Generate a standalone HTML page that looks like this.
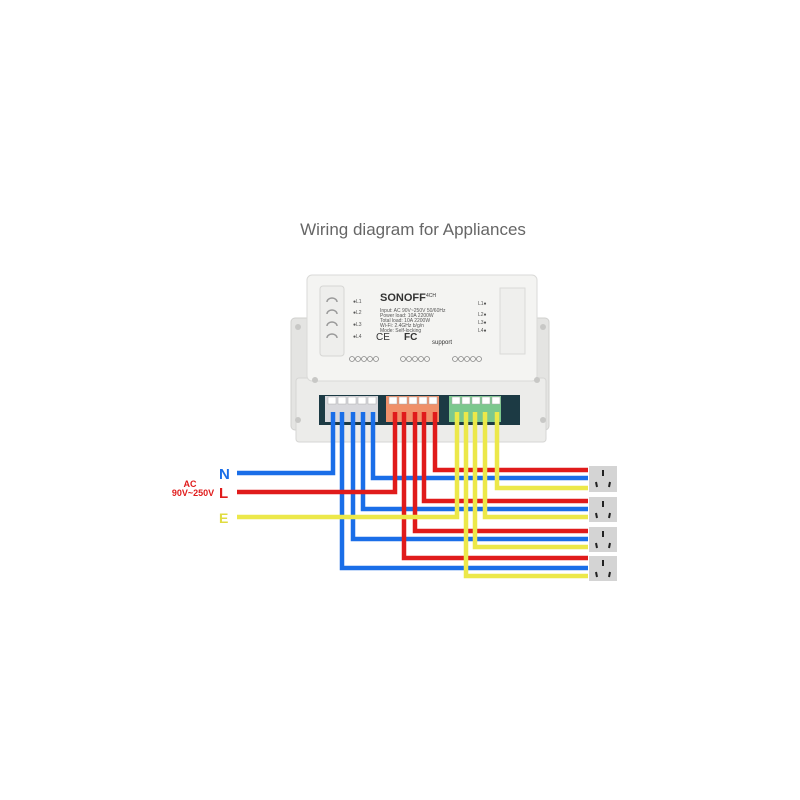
<!DOCTYPE html>
<html><head><meta charset="utf-8"><style>
html,body{margin:0;padding:0;background:#fff;}
svg{display:block;}
</style></head><body>
<svg width="800" height="800" viewBox="0 0 800 800" xmlns="http://www.w3.org/2000/svg" font-family="Liberation Sans, sans-serif">
<rect width="800" height="800" fill="#fff"/>
<text x="413" y="235" text-anchor="middle" font-size="17" fill="#666">Wiring diagram for Appliances</text>
<!-- device -->
<rect x="291" y="318" width="258" height="112" rx="4" fill="#e4e4e2" stroke="#d0d0ce"/>
<rect x="296" y="378" width="250" height="64" rx="3" fill="#ececea" stroke="#d6d6d4"/>
<rect x="307" y="275" width="230" height="106" rx="5" fill="#f4f4f2" stroke="#dadad8"/>
<rect x="320" y="286" width="24" height="70" rx="3" fill="#eeeeec" stroke="#d6d6d4"/>
<g fill="none" stroke="#999" stroke-width="1.5">
<path d="M327 302 a5 4 0 0 1 10 0"/><path d="M327 314 a5 4 0 0 1 10 0"/><path d="M327 326 a5 4 0 0 1 10 0"/><path d="M327 338 a5 4 0 0 1 10 0"/>
</g>
<rect x="500" y="288" width="25" height="66" fill="#efefed" stroke="#dadad8"/>
<g font-size="5" fill="#555">
<text x="353" y="303">●L1</text><text x="353" y="314">●L2</text><text x="353" y="326">●L3</text><text x="353" y="338">●L4</text>
<text x="478" y="305">L1●</text><text x="478" y="316">L2●</text><text x="478" y="324">L3●</text><text x="478" y="332">L4●</text>
<text x="380" y="312">Input: AC 90V~250V 50/60Hz</text>
<text x="380" y="317">Power load: 10A 2200W</text>
<text x="380" y="322">Total load: 10A 2200W</text>
<text x="380" y="327">Wi-Fi: 2.4GHz b/g/n</text>
<text x="380" y="332">Mode: Self-locking</text>
</g>
<text x="380" y="301" font-size="11" font-weight="bold" fill="#333">SONOFF</text>
<text x="426" y="297" font-size="5" fill="#333">4CH</text>
<text x="376" y="340" font-size="10" fill="#333">CE</text>
<text x="404" y="340" font-size="10" font-weight="bold" fill="#333">FC</text>
<text x="432" y="344" font-size="6" fill="#333">support</text>
<g fill="none" stroke="#888" stroke-width="0.8">
<circle cx="352" cy="359" r="2.5"/><circle cx="358" cy="359" r="2.5"/><circle cx="364" cy="359" r="2.5"/><circle cx="370" cy="359" r="2.5"/><circle cx="376" cy="359" r="2.5"/>
<circle cx="403" cy="359" r="2.5"/><circle cx="409" cy="359" r="2.5"/><circle cx="415" cy="359" r="2.5"/><circle cx="421" cy="359" r="2.5"/><circle cx="427" cy="359" r="2.5"/>
<circle cx="455" cy="359" r="2.5"/><circle cx="461" cy="359" r="2.5"/><circle cx="467" cy="359" r="2.5"/><circle cx="473" cy="359" r="2.5"/><circle cx="479" cy="359" r="2.5"/>
</g>
<g fill="#c8c8c6"><circle cx="298" cy="327" r="3"/><circle cx="298" cy="420" r="3"/><circle cx="543" cy="327" r="3"/><circle cx="543" cy="420" r="3"/><circle cx="315" cy="380" r="3"/><circle cx="537" cy="380" r="3"/></g>
<rect x="319" y="395" width="201" height="30" fill="#1c3a44"/>
<rect x="325" y="396" width="53" height="26" fill="#d8d8dc"/>
<rect x="386" y="396" width="53" height="26" fill="#f0906a"/>
<rect x="449" y="396" width="52" height="26" fill="#7cc88e"/>
<g fill="#fff" stroke="#aaa" stroke-width="0.5">
<rect x="328" y="397" width="8" height="7"/><rect x="338" y="397" width="8" height="7"/><rect x="348" y="397" width="8" height="7"/><rect x="358" y="397" width="8" height="7"/><rect x="368" y="397" width="8" height="7"/>
<rect x="389" y="397" width="8" height="7"/><rect x="399" y="397" width="8" height="7"/><rect x="409" y="397" width="8" height="7"/><rect x="419" y="397" width="8" height="7"/><rect x="429" y="397" width="8" height="7"/>
<rect x="452" y="397" width="8" height="7"/><rect x="462" y="397" width="8" height="7"/><rect x="472" y="397" width="8" height="7"/><rect x="482" y="397" width="8" height="7"/><rect x="492" y="397" width="8" height="7"/>
</g>
<!-- wires -->
<g fill="none" stroke-width="4.5" stroke-linejoin="miter">
<g stroke="#1a6ee8">
<path d="M237 473 H333 V412"/>
<path d="M588 568 H342 V412"/>
<path d="M588 539 H353 V412"/>
<path d="M588 509 H363 V412"/>
<path d="M588 478 H373 V412"/>
</g>
<g stroke="#e01b1b">
<path d="M237 492 H395 V412"/>
<path d="M588 558 H404 V412"/>
<path d="M588 531 H415 V412"/>
<path d="M588 501 H424 V412"/>
<path d="M588 470 H435 V412"/>
</g>
<g stroke="#ece84a">
<path d="M237 517 H457 V412"/>
<path d="M588 576 H466 V412"/>
<path d="M588 547 H475 V412"/>
<path d="M588 517 H485 V412"/>
<path d="M588 488 H497 V412"/>
</g>
</g>
<!-- sockets -->
<g>
<rect x="589" y="466" width="28" height="26" fill="#d4d4d4"/>
<rect x="589" y="497" width="28" height="25" fill="#d4d4d4"/>
<rect x="589" y="527" width="28" height="25" fill="#d4d4d4"/>
<rect x="589" y="556" width="28" height="25" fill="#d4d4d4"/>
</g>
<g stroke="#222" stroke-width="2">
<path d="M603 470 v6 M596 482 l1 5 M610 482 l-1 5"/>
<path d="M603 501 v6 M596 513 l1 5 M610 513 l-1 5"/>
<path d="M603 531 v6 M596 543 l1 5 M610 543 l-1 5"/>
<path d="M603 560 v6 M596 572 l1 5 M610 572 l-1 5"/>
</g>
<text x="219" y="479" font-size="15" font-weight="bold" fill="#1a6ee8">N</text>
<text x="219" y="498" font-size="15" font-weight="bold" fill="#e01b1b">L</text>
<text x="219" y="523" font-size="14" font-weight="bold" fill="#e0dc40">E</text>
<text x="190" y="487" font-size="9" font-weight="bold" fill="#e01b1b" text-anchor="middle">AC</text>
<text x="193" y="496" font-size="9" font-weight="bold" fill="#e01b1b" text-anchor="middle">90V~250V</text>
</svg>
</body></html>
